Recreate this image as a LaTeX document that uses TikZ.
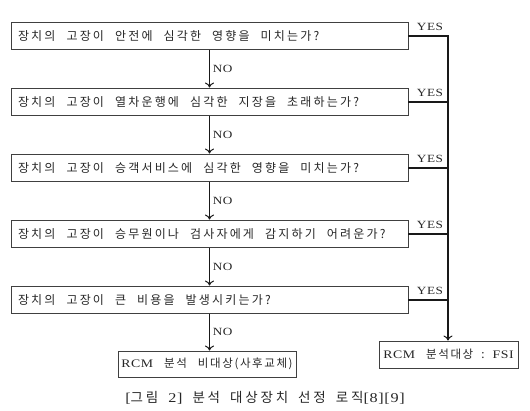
\documentclass[tikz,border=0pt]{standalone}
\usepackage{fontspec}
\setmainfont{Liberation Serif}
\newfontfamily\kr{Noto Sans CJK KR}
\newfontfamily\lt{Liberation Serif}[FakeStretch=1.2,LetterSpace=5]
\usetikzlibrary{arrows.meta}
% manual tracking between Hangul syllables
\newskip\hgskip \hgskip=1.6pt
\newskip\wsk \wsk=12pt
\def\trk#1{\trkloop#1\relax}
\def\trkloop#1{\ifx#1\relax\unskip\else#1\hskip\hgskip\relax\expandafter\trkloop\fi}
\def\trkline#1{\trkw#1 \trkend}
\def\trkw#1 #2\trkend{\trk{#1}\ifx\trkend#2\trkend\else\hskip\wsk\relax\trkw#2\trkend\fi}
\newcommand\boxfont{\fontsize{12pt}{14pt}\selectfont\kr\hgskip=2.2pt\relax\wsk=11pt\relax}
\newcommand\rfont{\fontsize{11.5pt}{13pt}\selectfont\kr\hgskip=1.6pt\relax\wsk=11pt\relax}
\newcommand\lblfont{\fontsize{11pt}{13pt}\selectfont\lt}
\newcommand\capfont{\fontsize{13.5pt}{15pt}\selectfont\kr\hgskip=2.8pt\relax\wsk=10pt\relax}
\newcommand\qt[1]{\makebox[383pt][l]{\trkline{#1}}}
\begin{document}
\begin{tikzpicture}[x=1pt,y=-1pt,
  qbox/.style={draw=black!75, line width=0.9pt, minimum height=27.5pt,
    minimum width=397pt, inner xsep=7pt, inner ysep=0pt,
    font=\boxfont, text=black!85},
  rbox/.style={draw=black!75, line width=0.9pt, inner sep=0pt,
    align=center, font=\rfont, text=black!85},
  conn/.style={line width=1.6pt, draw=black!90},
  arr/.style={conn, -{To[length=5pt,width=9pt,line width=1pt]}},
  yeslbl/.style={inner sep=0pt, anchor=base, font=\lblfont, text=black!85},
  nolbl/.style={inner sep=0pt, anchor=west, font=\lblfont, text=black!85},
  captext/.style={inner sep=0pt, font=\capfont, text=black!85}]
\useasboundingbox (0,0) rectangle (530,411);

\node[qbox] (q1) at (209.5,35.75) {\qt{장치의 고장이 안전에 심각한 영향을 미치는가?}};
\node[qbox] (q2) at (209.5,101.75) {\qt{장치의 고장이 열차운행에 심각한 지장을 초래하는가?}};
\node[qbox] (q3) at (209.5,167.75) {\qt{장치의 고장이 승객서비스에 심각한 영향을 미치는가?}};
\node[qbox] (q4) at (209.5,233.75) {\qt{장치의 고장이 승무원이나 검사자에게 감지하기 어려운가?}};
\node[qbox] (q5) at (209.5,299.75) {\qt{장치의 고장이 큰 비용을 발생시키는가?}};

\node[rbox, minimum width=178pt, minimum height=26pt] (nf) at (207,364)
  {{\lt RCM}\hskip\wsk\trk{분석}\hskip\wsk\trk{비대상(사후교체)}};
\node[rbox, minimum width=139pt, minimum height=27pt] (fsi) at (448.5,354.5)
  {{\lt RCM}\hskip\wsk\trk{분석대상}\hskip 8pt:\hskip 8pt{\lt FSI}};

\coordinate (rail) at (448,35.75);

% NO arrows
\draw[arr] (q1.south) -- node[nolbl, xshift=2.5pt] (n1) {NO} (q2.north);
\draw[arr] (q2.south) -- node[nolbl, xshift=2.5pt] (n2) {NO} (q3.north);
\draw[arr] (q3.south) -- node[nolbl, xshift=2.5pt] (n3) {NO} (q4.north);
\draw[arr] (q4.south) -- node[nolbl, xshift=2.5pt] (n4) {NO} (q5.north);
\draw[arr] (q5.south) -- node[nolbl, xshift=2.5pt] (n5) {NO} (q5.south |- nf.north);

% YES lines and rail
\draw[arr] (q1.east) -- (rail) -- (rail |- fsi.north);
\draw[conn] (q2.east) -- (q2.east -| rail);
\draw[conn] (q3.east) -- (q3.east -| rail);
\draw[conn] (q4.east) -- (q4.east -| rail);
\draw[conn] (q5.east) -- (q5.east -| rail);

\node[yeslbl] (y1) at ([xshift=21.5pt,yshift=5pt]q1.east) {YES};
\node[yeslbl] (y2) at ([xshift=21.5pt,yshift=5pt]q2.east) {YES};
\node[yeslbl] (y3) at ([xshift=21.5pt,yshift=5pt]q3.east) {YES};
\node[yeslbl] (y4) at ([xshift=21.5pt,yshift=5pt]q4.east) {YES};
\node[yeslbl] (y5) at ([xshift=21.5pt,yshift=5pt]q5.east) {YES};

\node[captext] (caption) at (265,398)
  {{\lt [}\trk{그림}\hskip\wsk{\lt 2]}\hskip\wsk\trk{분석}\hskip\wsk\trk{대상장치}\hskip\wsk\trk{선정}\hskip\wsk\trk{로직}{\lt [8][9]}};
\end{tikzpicture}
\end{document}
